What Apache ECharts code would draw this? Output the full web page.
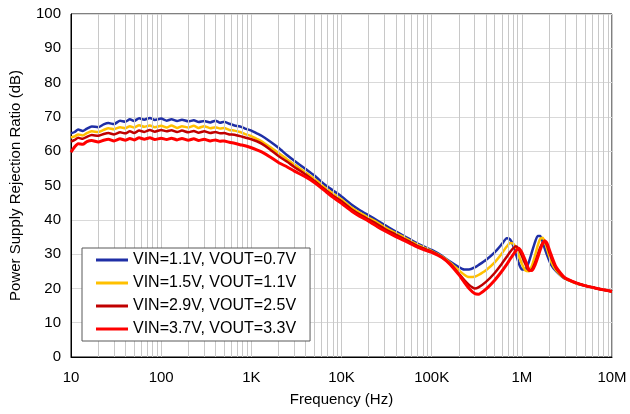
<!DOCTYPE html>
<html>
<head>
<meta charset="utf-8">
<script src="https://cdn.jsdelivr.net/npm/echarts@6/dist/echarts.min.js"></script>
<style>
  html, body { margin: 0; padding: 0; background: #fff; }
  #chart { width: 630px; height: 414px; }
</style>
</head>
<body>
<div id="chart"></div>
<script>
// frequency points (Hz)
const freq = [10, 11, 12, 13.5, 15, 17, 20, 23, 26, 30, 35, 40, 45, 50, 57, 65, 75, 85, 100, 115,
  130, 150, 170, 200, 230, 260, 300, 350, 400, 450, 500, 570, 650, 750, 850, 1000, 1150, 1300, 1600, 2000,
  2500, 3000, 4000, 5000, 6500, 8000, 10000, 13000, 16000, 20000, 25000, 30000, 40000, 50000, 65000, 80000, 100000, 130000, 160000, 200000,
  230000, 260000, 300000, 330000, 400000, 500000, 600000, 680000, 740000, 800000, 860000, 920000, 1000000, 1100000, 1200000, 1300000, 1400000, 1500000, 1600000, 1700000,
  1800000, 1900000, 2100000, 2400000, 3000000, 4000000, 5000000, 6500000, 8000000, 10000000]

// PSRR (dB)
const psrr11 = [65.2, 65.6, 66.3, 65.9, 66.6, 67.2, 67.0, 67.8, 68.2, 67.9, 68.9, 68.6, 69.3, 68.8, 69.6, 69.2, 69.7, 69.1, 69.5, 68.9,
  69.3, 68.8, 69.2, 68.7, 69.0, 68.5, 68.8, 68.4, 68.9, 68.3, 68.6, 68.0, 67.5, 67.2, 66.6, 66.0, 65.2, 64.5, 62.9, 61.0,
  58.8, 57.2, 54.8, 52.9, 50.3, 48.6, 46.8, 44.4, 42.8, 41.3, 39.8, 38.5, 36.6, 35.2, 33.5, 32.3, 31.2, 29.5, 27.8, 26.2,
  25.5, 25.5, 26.1, 26.8, 28.3, 30.5, 32.9, 34.6, 34.3, 32.6, 30.0, 27.5, 25.5, 25.6, 27.8, 30.8, 33.5, 35.3, 35.3, 33.6,
  31.5, 29.8, 27.0, 25.0, 22.8, 21.5, 20.8, 20.1, 19.6, 19.1]
const psrr15 = [64.0, 64.3, 64.9, 64.6, 65.3, 65.8, 65.6, 66.2, 66.7, 66.4, 67.0, 66.7, 67.3, 66.9, 67.6, 67.1, 67.5, 67.0, 67.4, 66.9,
  67.5, 66.8, 67.3, 66.9, 67.4, 66.8, 67.3, 66.7, 67.0, 66.6, 66.8, 66.2, 66.0, 65.6, 65.0, 64.4, 63.6, 62.9, 61.3, 59.5,
  57.6, 56.1, 53.8, 51.9, 49.4, 47.7, 45.9, 43.5, 42.0, 40.6, 39.2, 37.9, 36.1, 34.8, 33.1, 32.0, 30.9, 29.3, 27.5, 25.3,
  24.0, 23.3, 23.4, 23.9, 25.3, 27.6, 30.2, 32.2, 33.2, 33.1, 31.8, 29.8, 27.2, 25.2, 25.0, 26.8, 29.6, 32.5, 34.4, 34.8,
  33.6, 31.6, 28.0, 25.3, 22.9, 21.5, 20.8, 20.1, 19.6, 19.1]
const psrr29 = [62.8, 63.3, 63.9, 63.6, 64.2, 64.7, 64.5, 65.0, 65.3, 64.9, 65.5, 65.2, 65.8, 65.3, 66.0, 65.6, 66.2, 65.7, 66.2, 65.8,
  66.1, 65.6, 66.0, 65.5, 65.9, 65.4, 65.8, 65.3, 65.6, 65.2, 65.3, 64.9, 64.8, 64.4, 64.0, 63.5, 62.9, 62.2, 60.6, 58.6,
  56.9, 55.4, 53.2, 51.3, 48.9, 47.1, 45.4, 43.0, 41.5, 40.1, 38.7, 37.4, 35.7, 34.4, 32.8, 31.7, 30.7, 29.1, 27.2, 24.3,
  22.4, 21.0, 20.0, 20.3, 21.9, 24.5, 27.2, 29.2, 30.6, 31.7, 32.3, 31.5, 29.5, 27.0, 25.2, 25.6, 27.5, 29.8, 31.9, 33.3,
  33.6, 32.6, 29.2, 25.8, 23.0, 21.6, 20.8, 20.1, 19.6, 19.1]
const psrr37 = [59.7, 61.3, 62.2, 62.0, 62.8, 63.1, 62.7, 63.2, 63.5, 63.0, 63.6, 63.2, 63.7, 63.3, 63.9, 63.5, 63.9, 63.4, 63.8, 63.4,
  63.8, 63.3, 63.7, 63.2, 63.6, 63.1, 63.5, 63.0, 63.3, 62.9, 63.0, 62.6, 62.3, 61.9, 61.6, 61.0, 60.4, 59.8, 58.4, 56.7,
  55.4, 54.2, 52.5, 50.9, 48.5, 46.6, 44.8, 42.5, 41.0, 39.6, 38.0, 36.8, 35.1, 33.9, 32.4, 31.4, 30.5, 29.0, 27.0, 24.0,
  21.8, 20.0, 18.5, 18.3, 19.8, 22.4, 25.0, 27.0, 28.5, 29.8, 31.0, 31.7, 30.5, 28.0, 25.5, 25.2, 26.8, 29.0, 31.3, 33.0,
  33.9, 33.2, 30.0, 26.2, 23.1, 21.6, 20.8, 20.1, 19.6, 19.1]

const seriesNames = ['VIN=1.1V, VOUT=0.7V', 'VIN=1.5V, VOUT=1.1V', 'VIN=2.9V, VOUT=2.5V', 'VIN=3.7V, VOUT=3.3V']
const seriesColors = ['#1f2fa6', '#ffc000', '#c00000', '#ff0000']

const xTickValues = [10, 100, 1000, 10000, 100000, 1000000, 10000000]
const xTickLabels = ['10', '100', '1K', '10K', '100K', '1M', '10M']

// minor log gridlines 2..9 for each decade
const minorLines = []
for (let d = 10; d < 1e7; d *= 10) {
  for (let k = 2; k <= 9; k++) minorLines.push({ xAxis: d * k })
}

const font = 'Liberation Sans, Arial, sans-serif'
const myChart = echarts.init(document.getElementById('chart'))

const allValues = [psrr11, psrr15, psrr29, psrr37]
const lineSeries = allValues.map((vals, i) => ({
  name: seriesNames[i],
  type: 'line',
  data: freq.map((f, j) => [f, vals[j]]),
  symbol: 'none',
  smooth: 0.2,
  lineStyle: { color: seriesColors[i], width: i === 3 ? 3 : 2.5 },
  itemStyle: { color: seriesColors[i] },
  z: 3 + i
}))

const option = {
  animation: false,
  grid: {
    left: 70, right: 18, top: 14, bottom: 57,
    show: true, borderColor: '#000', borderWidth: 1
  },
  legend: {
    orient: 'vertical',
    left: 82, top: 248,
    z: 20,
    itemWidth: 32, itemHeight: 3,
    itemGap: 7,
    padding: [4, 14, 4, 14],
    backgroundColor: '#fff',
    borderColor: '#595959',
    borderWidth: 1,
    borderRadius: 0,
    icon: 'rect',
    textStyle: { fontFamily: font, fontSize: 16, color: '#000' },
    data: seriesNames
  },
  xAxis: {
    type: 'log',
    logBase: 10,
    min: 10,
    max: 10000000,
    name: 'Frequency (Hz)',
    nameLocation: 'middle',
    nameGap: 35,
    nameTextStyle: { fontFamily: font, fontSize: 15, color: '#000' },
    axisLine: { show: true, lineStyle: { color: '#000', width: 1 } },
    axisTick: { show: false },
    axisLabel: {
      fontFamily: font, fontSize: 15, color: '#000', margin: 13,
      formatter: v => {
        const idx = xTickValues.findIndex(t => Math.abs(t - v) / t < 1e-6)
        return idx >= 0 ? xTickLabels[idx] : ''
      }
    },
    splitLine: { show: true, lineStyle: { color: '#c8c8c8', width: 1 } }
  },
  yAxis: {
    type: 'value',
    min: 0,
    max: 100,
    interval: 10,
    name: 'Power Supply Rejection Ratio (dB)',
    nameLocation: 'middle',
    nameGap: 48,
    nameTextStyle: { fontFamily: font, fontSize: 15, color: '#000' },
    axisLine: { show: true, lineStyle: { color: '#000', width: 1 } },
    axisTick: { show: false },
    axisLabel: { fontFamily: font, fontSize: 15, color: '#000', margin: 10 },
    splitLine: { show: true, lineStyle: { color: '#d9d9d9', width: 1 } }
  },
  series: [
    {
      type: 'line',
      data: [],
      silent: true,
      z: 1,
      markLine: {
        silent: true,
        symbol: 'none',
        label: { show: false },
        lineStyle: { color: '#c8c8c8', width: 1, type: 'solid' },
        data: minorLines
      }
    },
    ...lineSeries
  ]
}

myChart.setOption(option)
</script>
</body>
</html>
